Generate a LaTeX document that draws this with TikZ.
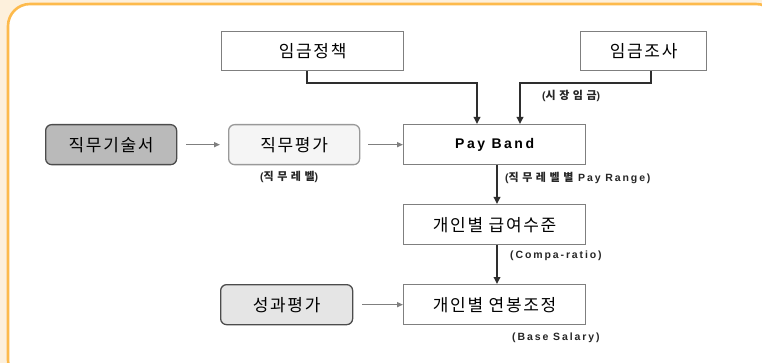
\documentclass[tikz,border=0pt]{standalone}
\usepackage{fontspec}
\setmainfont{Liberation Sans}
\newfontfamily\kr{Noto Sans CJK KR}
\newfontfamily\krsp[LetterSpace=10]{Noto Sans CJK KR}
\newfontfamily\krlab[LetterSpace=32]{Noto Sans CJK KR}
\newfontfamily\lab[LetterSpace=18]{Liberation Sans}
\usetikzlibrary{arrows.meta}
\definecolor{cream}{HTML}{FDF0DC}
\definecolor{orangeframe}{HTML}{FDBA4C}
\definecolor{boxline}{HTML}{7F7F7F}
\definecolor{darkline}{HTML}{2E2E2E}
\tikzset{
  box/.style={draw=boxline, line width=1.3pt, fill=white, inner sep=0pt, anchor=north west, font=\krsp\fontsize{17}{20}\selectfont},
  rbox/.style={box, rounded corners=6pt, draw=black!70},
  thick conn/.style={draw=darkline, line width=2.6pt, -{Triangle[length=7pt,width=6.5pt]}},
  thin conn/.style={draw=boxline, line width=1.4pt, -{Triangle[length=6pt,width=5pt]}},
  lbl/.style={font=\lab\bfseries\fontsize{10.5}{12}\selectfont, text=black!85, inner sep=0pt, anchor=west},
}
\newcommand{\krl}[1]{{\krlab\bfseries\fontsize{11}{13}\selectfont #1}}
\begin{document}
\begin{tikzpicture}[x=1pt,y=-1pt]
\useasboundingbox (0,0) rectangle (762,363);
\fill[cream] (0,0) rectangle (762,363);
\filldraw[fill=white, draw=orangeframe, line width=2.6pt, rounded corners=22pt] (8,4) rectangle (778,382);
% boxes
\node[box, minimum width=182pt, minimum height=39pt] (policy) at (221,31) {임금정책};
\node[box, minimum width=126pt, minimum height=39pt] (survey) at (580,31) {임금조사};
\node[rbox, fill=black!27, minimum width=131pt, minimum height=40pt] (jd) at (45,124) {직무기술서};
\node[rbox, fill=black!4, draw=black!40, minimum width=131pt, minimum height=40pt] (je) at (228,124) {직무평가};
\node[box, minimum width=182pt, minimum height=40pt, font=\lab\bfseries\fontsize{14}{17}\selectfont] (pb) at (403,124) {Pay Band};
\node[box, minimum width=182pt, minimum height=40pt] (lvl) at (403,204) {개인별 급여수준};
\node[box, minimum width=182pt, minimum height=40pt] (adj) at (403,284) {개인별 연봉조정};
\node[rbox, fill=black!10, minimum width=132pt, minimum height=40pt] (pe) at (220,284) {성과평가};
% connectors
\coordinate (pbL) at (477,124);
\coordinate (pbR) at (520,124);
\draw[thick conn] (policy.south -| 307,0) |- (392,83) -| (pbL);
\draw[thick conn] (survey.south -| 651,0) |- (586,83) -| (pbR);
\draw[thin conn] (jd.east) ++(9,0) -- ([xshift=-8pt]je.west);
\draw[thin conn] (je.east) ++(8,0) -- (pb.west);
\draw[thin conn] (pe.east) ++(9,0) -- (adj.west);
\draw[thick conn] (pb.south -| 497,0) -- (lvl.north -| 497,0);
\draw[thick conn] (lvl.south -| 497,0) -- (adj.north -| 497,0);
% labels
\node[lbl] (l1) at (542,96) {(\krl{시장임금})};
\node[lbl] (l2) at (260,177) {(\krl{직무레벨})};
\node[lbl] (l3) at (505,178) {(\krl{직무레벨별} Pay Range)};
\node[lbl] (l4) at (510,256) {(Compa-ratio)};
\node[lbl] (l5) at (512,338) {(Base Salary)};
\end{tikzpicture}
\end{document}
